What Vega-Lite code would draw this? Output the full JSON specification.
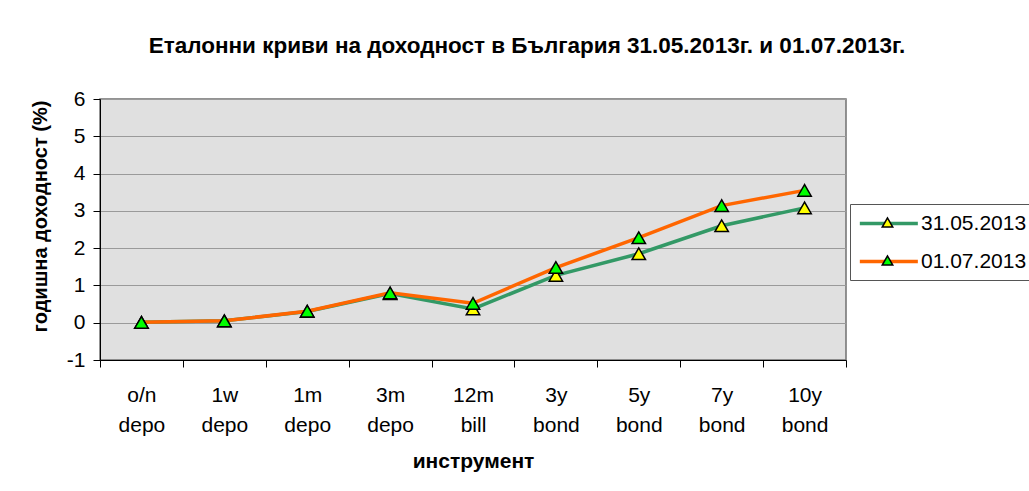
{
  "$schema": "https://vega.github.io/schema/vega-lite/v6.json",
  "width": 746,
  "height": 261,
  "autosize": {"type": "none"},
  "padding": {"left": 100, "top": 99, "right": 183, "bottom": 131},
  "background": "white",
  "config": {
    "font": "Liberation Sans",
    "view": {"fill": "#e0e0e0", "stroke": "#707070", "strokeWidth": 1.5}
  },
  "title": {
    "text": "Еталонни криви на доходност в България 31.05.2013г. и 01.07.2013г.",
    "fontSize": 22.5,
    "fontWeight": "bold",
    "font": "Liberation Sans",
    "color": "black",
    "anchor": "middle",
    "frame": "group",
    "dx": 54,
    "offset": 31
  },
  "data": {
    "values": [
      {"instrument": "o/n depo", "date": "31.05.2013", "value": 0.01},
      {"instrument": "1w depo", "date": "31.05.2013", "value": 0.05},
      {"instrument": "1m depo", "date": "31.05.2013", "value": 0.30},
      {"instrument": "3m depo", "date": "31.05.2013", "value": 0.78},
      {"instrument": "12m bill", "date": "31.05.2013", "value": 0.37},
      {"instrument": "3y bond", "date": "31.05.2013", "value": 1.27},
      {"instrument": "5y bond", "date": "31.05.2013", "value": 1.85},
      {"instrument": "7y bond", "date": "31.05.2013", "value": 2.60},
      {"instrument": "10y bond", "date": "31.05.2013", "value": 3.08},
      {"instrument": "o/n depo", "date": "01.07.2013", "value": 0.01},
      {"instrument": "1w depo", "date": "01.07.2013", "value": 0.05},
      {"instrument": "1m depo", "date": "01.07.2013", "value": 0.31},
      {"instrument": "3m depo", "date": "01.07.2013", "value": 0.80},
      {"instrument": "12m bill", "date": "01.07.2013", "value": 0.52},
      {"instrument": "3y bond", "date": "01.07.2013", "value": 1.48},
      {"instrument": "5y bond", "date": "01.07.2013", "value": 2.28},
      {"instrument": "7y bond", "date": "01.07.2013", "value": 3.14},
      {"instrument": "10y bond", "date": "01.07.2013", "value": 3.55}
    ]
  },
  "encoding": {
    "x": {
      "field": "instrument",
      "type": "nominal",
      "sort": ["o/n depo", "1w depo", "1m depo", "3m depo", "12m bill", "3y bond", "5y bond", "7y bond", "10y bond"],
      "scale": {"type": "band", "paddingInner": 0, "paddingOuter": 0},
      "axis": {
        "title": "инструмент",
        "titleFontSize": 21,
        "titleFontWeight": "bold",
        "titleColor": "black",
        "titlePadding": 15,
        "labelFontSize": 21,
        "labelColor": "black",
        "labelAngle": 0,
        "labelExpr": "split(datum.label, ' ')",
        "labelLineHeight": 30,
        "labelPadding": 17,
        "tickBand": "extent",
        "tickSize": 7,
        "tickColor": "black",
        "domainColor": "black",
        "grid": false
      }
    },
    "y": {
      "field": "value",
      "type": "quantitative",
      "scale": {"domain": [-1, 6], "nice": false, "zero": false},
      "axis": {
        "title": "годишна доходност (%)",
        "titleFontSize": 20,
        "titleFontWeight": "bold",
        "titleColor": "black",
        "titlePadding": 16,
        "titleY": 117,
        "values": [-1, 0, 1, 2, 3, 4, 5, 6],
        "labelExpr": "'' + datum.value",
        "labelFontSize": 21,
        "labelColor": "black",
        "labelPadding": 8,
        "tickSize": 7,
        "tickColor": "black",
        "domainColor": "black",
        "grid": true,
        "gridColor": "#9a9a9a",
        "gridWidth": 1.2
      }
    }
  },
  "layer": [
    {
      "mark": {"type": "line", "strokeWidth": 3.5},
      "encoding": {
        "color": {
          "field": "date",
          "type": "nominal",
          "sort": ["31.05.2013", "01.07.2013"],
          "scale": {"domain": ["31.05.2013", "01.07.2013"], "range": ["#339966", "#ff6600"]},
          "legend": {
            "title": null,
            "orient": "none",
            "legendX": 750,
            "legendY": 105,
            "zindex": 1,
            "symbolType": "M-1,0H5",
            "symbolSize": 374,
            "symbolStrokeWidth": 3.5,
            "labelFontSize": 21,
            "labelColor": "black",
            "labelOffset": 40,
            "rowPadding": 16,
            "padding": 8,
            "strokeColor": "#555555",
            "fillColor": "white"
          }
        }
      }
    },
    {
      "mark": {"type": "point", "shape": "triangle-up", "size": 180, "filled": true, "stroke": "black", "strokeWidth": 1.5, "opacity": 1},
      "encoding": {
        "fill": {
          "field": "date",
          "type": "nominal",
          "scale": {"domain": ["31.05.2013", "01.07.2013", "other"], "range": ["#ffff00", "#00ff00", "#ffffff"]},
          "legend": {
            "title": null,
            "values": ["31.05.2013", "01.07.2013"],
            "orient": "none",
            "legendX": 769,
            "legendY": 105,
            "zindex": 2,
            "symbolType": "triangle-up",
            "symbolSize": 110,
            "symbolStrokeColor": "black",
            "symbolStrokeWidth": 1.5,
            "symbolOpacity": 1,
            "labelFontSize": 21,
            "labelExpr": "''",
            "labelOffset": 4,
            "rowPadding": 16,
            "padding": 8
          }
        }
      }
    }
  ]
}
